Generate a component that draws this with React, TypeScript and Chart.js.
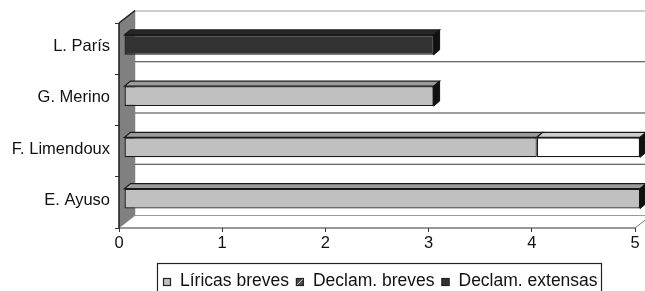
import React, { useEffect, useRef } from "react";
import { Chart, registerables } from "chart.js";

Chart.register(...registerables);

// ---- data ----
const categories = ["L. París", "G. Merino", "F. Limendoux", "E. Ayuso"];
const seriesNames = ["Líricas breves", "Declam. breves", "Declam. extensas"];
const liricasBreves = [0, 3, 4, 5];
const declamBreves = [0, 0, 1, 0];
const declamExtensas = [3, 0, 0, 0];
const xMin = 0;
const xMax = 5;
const xStep = 1;

// ---- styles ----
const FONT = '"Liberation Sans", Arial, Helvetica, sans-serif';
const TEXT = "#111111";
const SERIES_COLORS = ["#c0c0c0", "#ffffff", "#333333"];
const SERIES_TOPS = ["#9c9c9c", "#cfcfcf", "#262626"];
const WALL = { dx: 16, dy: -12.5 };
const BAR_SHIFT = { dx: 5, dy: -3.75 };
const BAR_DEPTH = { dx: 6, dy: -5 };

function line(ctx: CanvasRenderingContext2D, x1: number, y1: number, x2: number, y2: number) {
  ctx.beginPath();
  ctx.moveTo(x1, y1);
  ctx.lineTo(x2, y2);
  ctx.stroke();
}

function poly(ctx: CanvasRenderingContext2D, pts: number[][], fill: string, stroke: string, lw: number) {
  ctx.beginPath();
  ctx.moveTo(pts[0][0], pts[0][1]);
  for (let i = 1; i < pts.length; i++) ctx.lineTo(pts[i][0], pts[i][1]);
  ctx.closePath();
  ctx.fillStyle = fill;
  ctx.fill();
  ctx.lineWidth = lw;
  ctx.strokeStyle = stroke;
  ctx.stroke();
}

const threeD = {
  id: "threeD",
  beforeDatasetsDraw(chart: any) {
    const { ctx, chartArea: a, scales } = chart;
    const y = scales.y;
    const L = a.left, R = a.right, T = a.top, B = a.bottom;
    const { dx, dy } = WALL;
    ctx.save();
    ctx.lineWidth = 1;
    // back wall top
    ctx.strokeStyle = "#9a9a9a";
    line(ctx, L + dx, T + dy + 0.5, R + dx, T + dy + 0.5);
    // back wall category boundaries
    ctx.strokeStyle = "#3a3a3a";
    for (let i = 1; i < categories.length; i++) {
      const yb = (y.getPixelForValue(i - 1) + y.getPixelForValue(i)) / 2 + dy;
      line(ctx, L + dx, yb, R + dx, yb);
    }
    // floor
    ctx.strokeStyle = "#9a9a9a";
    line(ctx, L + dx, B + dy, R + dx, B + dy);
    ctx.strokeStyle = "#333";
    line(ctx, L, B, R, B);
    ctx.strokeStyle = "#777";
    line(ctx, R, B, R + dx, B + dy);
    // left wall
    poly(ctx, [[L, T], [L + dx, T + dy], [L + dx, B + dy], [L, B]], "#808080", "#808080", 0.5);
    ctx.strokeStyle = "#1e1e1e";
    ctx.lineWidth = 1.5;
    line(ctx, L, T, L, B);
    line(ctx, L, T, L + dx, T + dy);
    ctx.restore();
    ctx.save();
    ctx.translate(BAR_SHIFT.dx, BAR_SHIFT.dy);
  },
  afterDatasetsDraw(chart: any) {
    const { ctx } = chart;
    const { dx, dy } = BAR_DEPTH;
    const metas = chart.data.datasets.map((_: any, i: number) => chart.getDatasetMeta(i));
    for (let c = 0; c < categories.length; c++) {
      let maxEl: any = null;
      metas.forEach((m: any, di: number) => {
        const el = m.data[c];
        if (!el) return;
        const p = el.getProps(["x", "y", "base", "height"], true);
        const left = Math.min(p.x, p.base), right = Math.max(p.x, p.base);
        if (right - left < 0.5) return;
        const top = p.y - p.height / 2;
        poly(ctx, [[left, top], [right, top], [right + dx, top + dy], [left + dx, top + dy]], SERIES_TOPS[di], "#1a1a1a", 1.2);
        if (!maxEl || right > maxEl.right) maxEl = { right, top, bottom: p.y + p.height / 2 };
      });
      if (maxEl) {
        const { right, top, bottom } = maxEl;
        poly(ctx, [[right, top], [right + dx, top + dy], [right + dx, bottom + dy], [right, bottom]], "#111", "#111", 1);
      }
    }
    ctx.restore();
  },
  afterDraw(chart: any) {
    const { ctx } = chart;
    ctx.save();
    // legend box
    ctx.strokeStyle = "#222";
    ctx.lineWidth = 1.2;
    ctx.strokeRect(157.5, 263.5, 444, 40);
    ctx.font = `17.5px ${FONT}`;
    ctx.textBaseline = "middle";
    ctx.fillStyle = TEXT;
    let x = 163;
    const yc = 281;
    chart.data.datasets.forEach((ds: any, i: number) => {
      const ms = 8;
      const my = yc + 1 - ms / 2;
      if (i === 1) {
        ctx.fillStyle = "#4a4a4a";
        ctx.fillRect(x, my, ms, ms);
        ctx.strokeStyle = "#ddd";
        ctx.lineWidth = 1;
        line(ctx, x + 1, my + ms - 1, x + ms - 1, my + 1);
      } else {
        ctx.fillStyle = ds.backgroundColor;
        ctx.fillRect(x, my, ms, ms);
      }
      ctx.strokeStyle = "#222";
      ctx.lineWidth = 1.2;
      ctx.strokeRect(x + 0.5, my + 0.5, ms - 1, ms - 1);
      x += ms + 9;
      ctx.fillStyle = TEXT;
      ctx.fillText(ds.label, x, yc);
      x += ctx.measureText(ds.label).width + 7;
    });
    ctx.restore();
  },
};

export default function App() {
  const ref = useRef<HTMLCanvasElement | null>(null);
  useEffect(() => {
    if (!ref.current) return;
    const values = [liricasBreves, declamBreves, declamExtensas];
    const chart = new Chart(ref.current, {
      type: "bar",
      data: {
        labels: categories,
        datasets: seriesNames.map((name, i) => ({
          label: name,
          data: values[i],
          backgroundColor: SERIES_COLORS[i],
          borderColor: "#1a1a1a",
          borderWidth: 1.3,
          borderSkipped: false,
          categoryPercentage: 1,
          barPercentage: 0.39,
          clip: false as any,
        })),
      },
      options: {
        indexAxis: "y",
        responsive: false,
        animation: false,
        layout: { padding: { left: 0, right: 10, top: 23, bottom: 0 } },
        plugins: { legend: { display: false }, tooltip: { enabled: false } },
        scales: {
          x: {
            stacked: true,
            min: xMin,
            max: xMax,
            ticks: { stepSize: xStep, font: { family: FONT, size: 16.5 }, color: TEXT, padding: 2 },
            grid: { display: true, drawOnChartArea: false, drawTicks: true, tickLength: 4, color: "#333" },
            border: { display: false },
            afterFit: (s: any) => { s.height = 63; },
          },
          y: {
            stacked: true,
            ticks: { font: { family: FONT, size: 16.5 }, color: TEXT, padding: 5, labelOffset: -2 },
            grid: { display: true, drawOnChartArea: false, drawTicks: true, tickLength: 4, color: "#333" },
            border: { display: false },
            afterFit: (s: any) => { s.width = 119; },
          },
        },
      },
      plugins: [threeD],
    });
    return () => chart.destroy();
  }, []);
  return (
    <div style={{ position: "absolute", left: 0, top: 0, width: 645, height: 291, background: "#fff" }}>
      <canvas ref={ref} width={645} height={291} style={{ display: "block" }} />
    </div>
  );
}
